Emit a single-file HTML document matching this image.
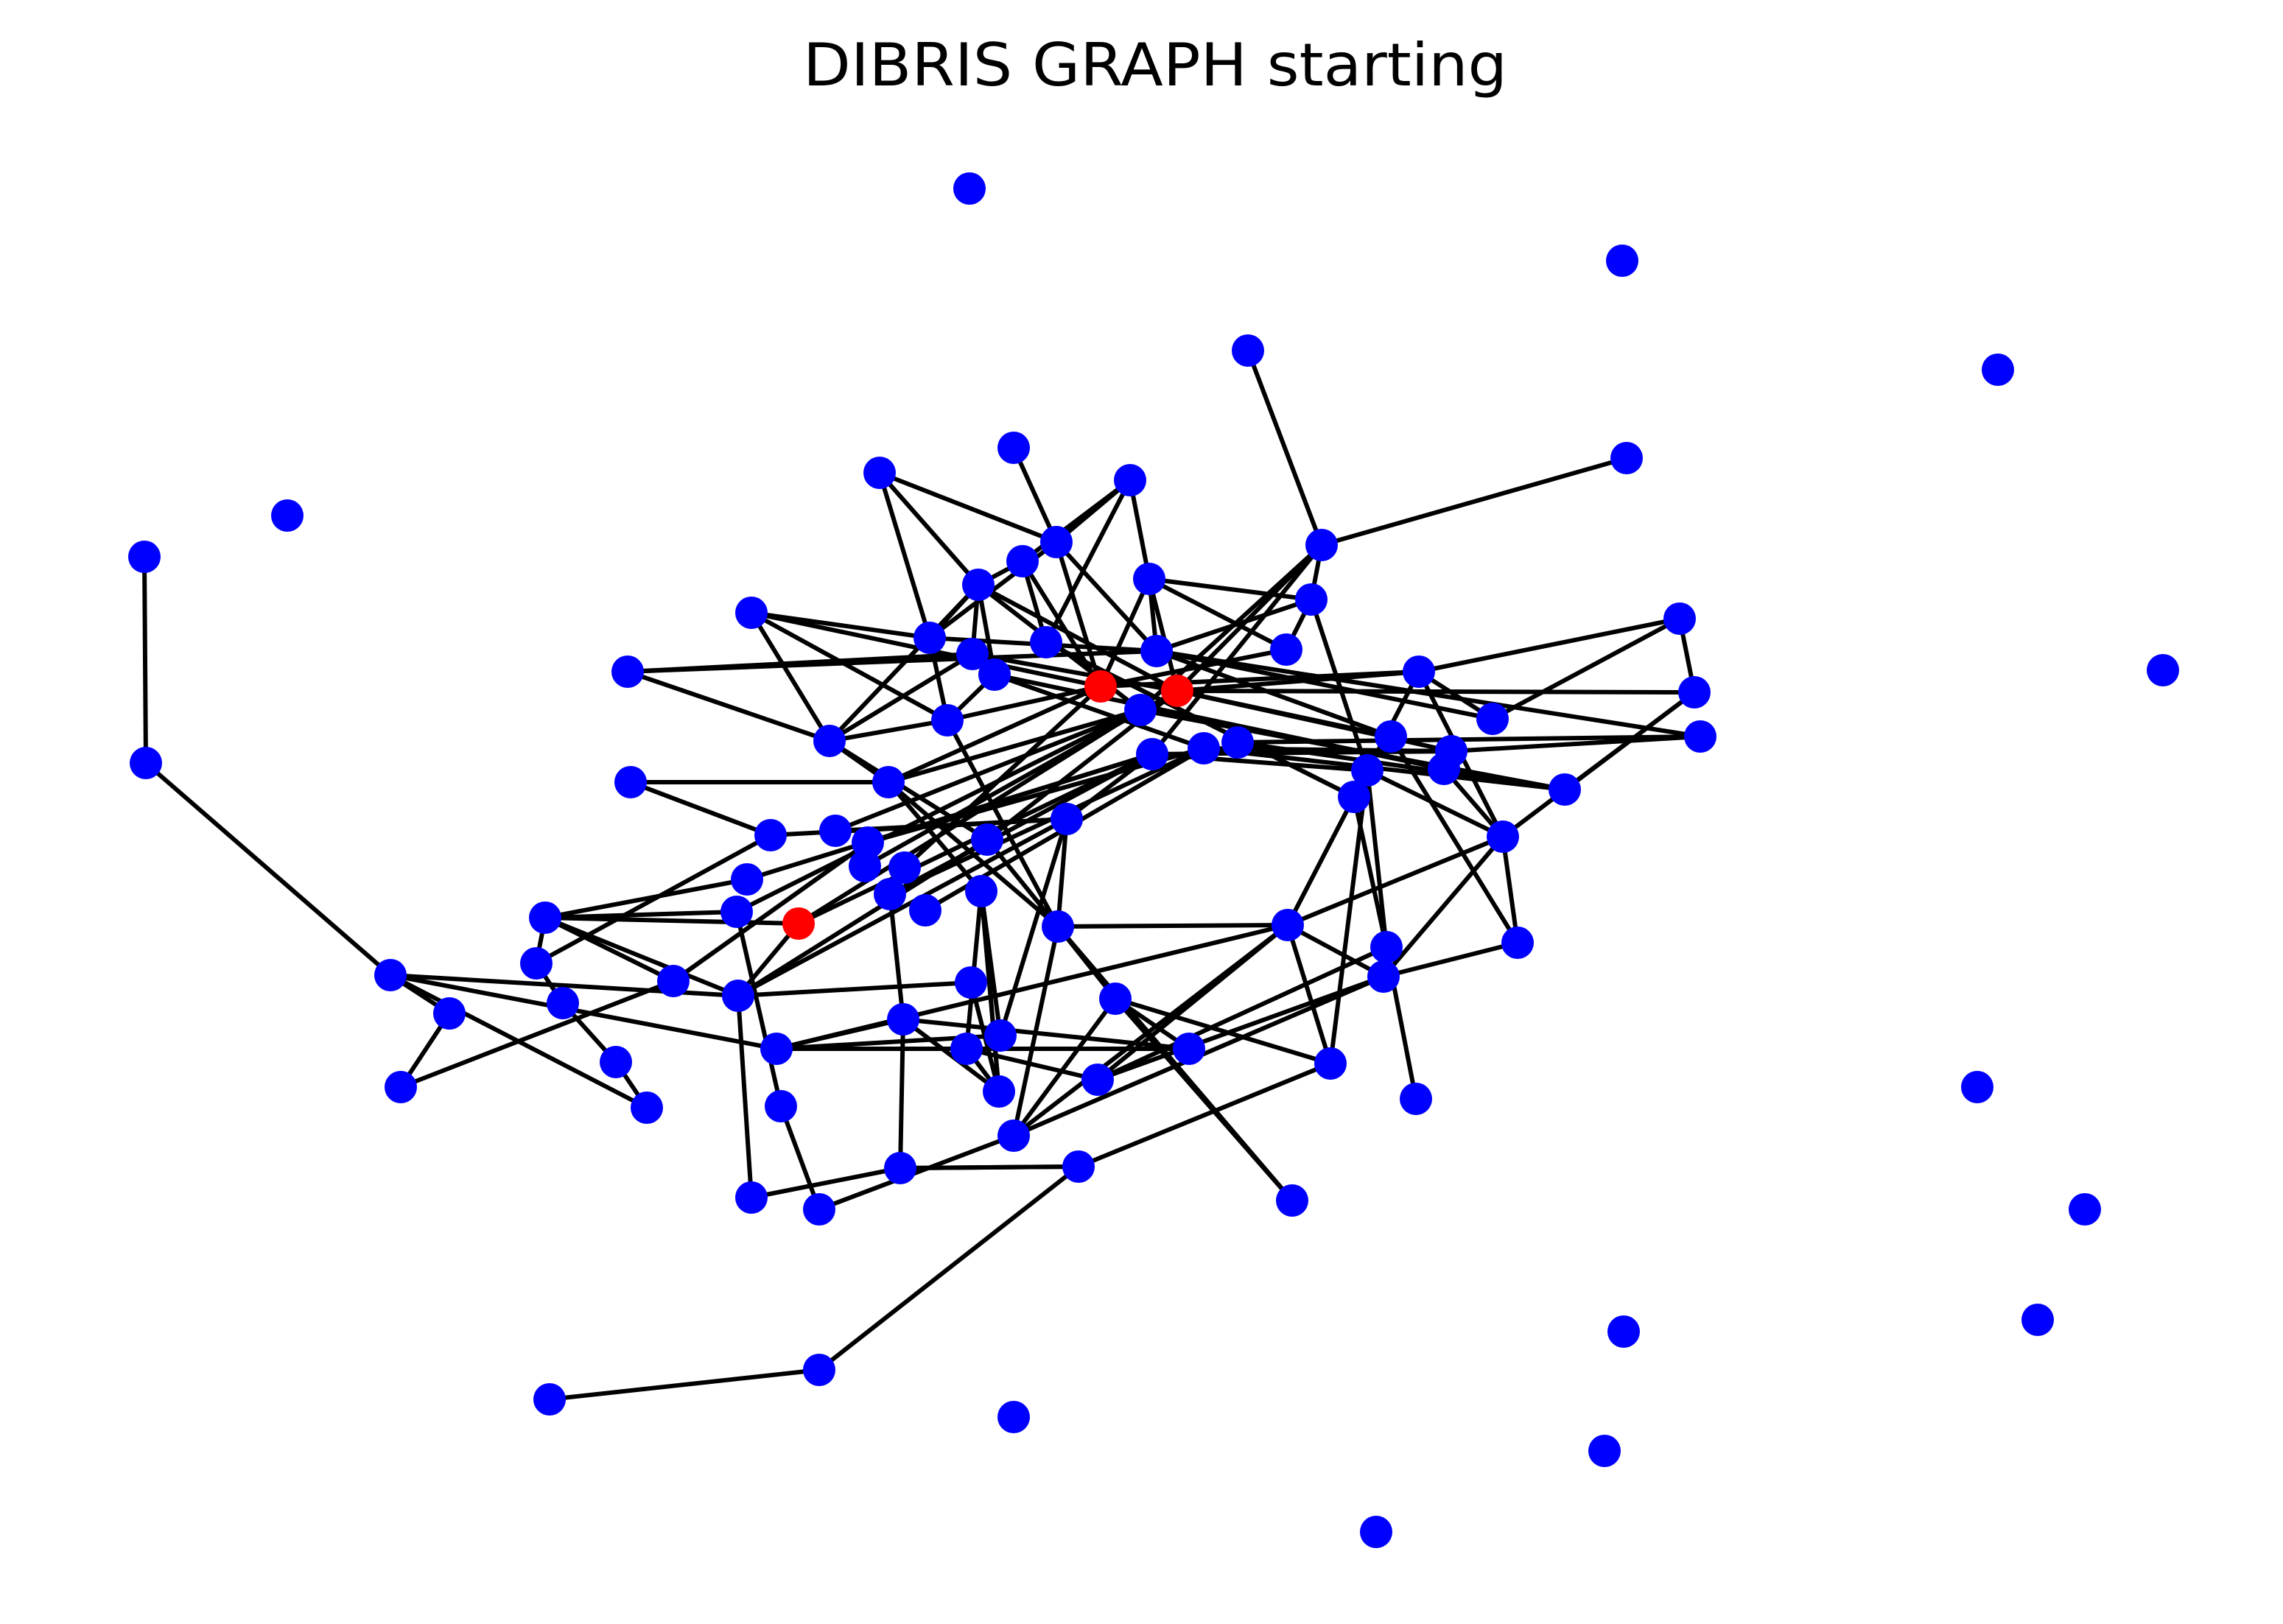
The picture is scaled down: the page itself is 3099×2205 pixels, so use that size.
<!DOCTYPE html>
<html><head><meta charset="utf-8"><style>
html,body{margin:0;padding:0;background:#fff;}
svg{display:block;}
</style></head><body>
<svg id="chart" width="3099" height="2205" viewBox="0 0 1549.5 1102.5" xmlns="http://www.w3.org/2000/svg">
<rect width="1549.5" height="1102.5" fill="#fff"/>
<text x="784" y="58" text-anchor="middle" font-family="DejaVu Sans, Liberation Sans, sans-serif" font-size="40" textLength="478" lengthAdjust="spacingAndGlyphs" fill="#000">DIBRIS GRAPH starting</text>
<g id="edges"></g>
<g id="nodes"></g>
</svg>
<script>
const nodeIds = ["I1","I2","I3","I4","I5","I6","I7","I8","I9","I10","I11","I12","A","B","C","D","E","F","G","H","I","J","K","L","M","N","O","P","Q","R","S","T","U","V","W","X","Y","Z","AA","AB","AC","AD","AE","AF","AG","AH","AI","AJ","AK","AL","AM","AN","AO","AP","AQ","AR","AS","AT","AU","AV","AW","AX","AY","AZ","BA","BB","BC","BD","BE","BF","BG","BH","BI","BJ","BK","BL","BM","BN","BO","BP","BQ","BR","BS","BT","BU","BV","BW","BX","BY","BZ","CA","CB","CC","CD","CE","CF","CG","CH","CI","CJ","CK","CL","CM"];
const nodeX = [658,1101,1356,1468,195,1342,1415,1383,1102,1089,934,688,98,99,265,305,272,439,418,382,364,370,457,501,500,507,523,542,567,589,587,614,604,628,603,563,510,426,428,597,688,767,717,694,664,631,660,675,710,780,785,747,799,774,782,643,817,840,847,897,890,873,1104,963,1013,944,1140,1150,1154,985,980,928,919,1062,1020,1030,941,939,874,903,961,877,724,670,666,718,659,613,527,530,656,679,678,757,807,745,688,732,611,510,556,556,373];
const nodeY = [128,177,251,455,350,738,821,896,904,985,1040,962,378,518,662,688,738,752,721,681,654,623,666,676,619,597,567,627,564,572,588,589,607,618,531,503,416,456,531,321,304,326,368,381,397,433,444,458,436,393,442,466,469,482,512,489,508,504,238,370,407,441,311,456,488,500,420,470,500,510,522,523,541,536,568,640,643,663,628,722,746,815,556,570,605,629,667,692,712,751,712,703,741,678,712,733,771,792,793,813,821,930,950];
const redNodes = ["P","AN","AO"];
const edgeFrom = ["A","B","C","C","C","D","E","C","H","G","I","I","J","J","J","J","J","K","AB","AB","AB","AC","AD","AD","AD","AD","AE","AE","AE","AF","AF","AF","AG","AG","AG","AG","AG","AL","AL","AL","AL","AL","AU","AV","AV","AV","AV","AV","AW","AW","AX","AX","Y","Y","Y","Y","Z","Z","Z","X","X","X","X","X","AA","AA","AR","AR","AR","AR","AT","AN","AO","AO","AO","AO","AM","AM","AK","AP","AS","AT","AZ","AZ","AZ","AZ","BC","BC","BD","BD","BE","BK","BK","BK","BK","BK","BH","BI","BI","BH","BL","BL","BN","BP","BQ","BN","BM","BO","BO","BO","BP","CH","CL","CH","P","P","M","N","S","T","U","V","R","Q","W","W","W","W","BS","BS","L","L","L","L","K","I","BY","BY","BY","BY","BZ","BZ","CJ","CJ","CK","CI","CI","CG","CG","CG","CC","CC","CC","CD","CD","CD","CD","BV","CF","CF","CF","CA","CB","CB","CA","BX","BX","BX","AH","AI","AJ","AQ","AP","AS","O","Q","R","U","BT","BT","BU","AJ","AK","AM","AQ"];
const edgeTo   = ["B","C","L","F","BY","E","K","D","G","F","H","J","M","L","P","N","K","R","AE","AG","AH","AE","AE","AF","AL","AK","AN","AM","AH","AG","AK","AN","AH","AI","AP","AO","AJ","AM","AW","AO","AX","AN","AV","AY","AO","AP","AQ","AW","AM","BH","AW","AN","AH","X","AR","AN","AI","X","AM","AR","AG","AI","BT","W","W","O","AN","BV","AH","AJ","BE","AZ","AZ","BD","BF","BB","BB","BA","BI","BJ","BJ","BJ","BC","BA","BI","BK","BD","BA","BJ","BK","BF","BG","BH","BL","BO","BN","BM","BM","BO","BP","BN","BB","BO","BO","BQ","CF","BQ","BV","CG","BY","CH","CL","CM","CI","AP","AQ","AP","AQ","AO","AN","AQ","AS","AS","BS","AP","AN","BU","BV","AQ","BV","BS","BT","P","BW","R","O","CB","BX","CA","CE","M","CK","L","CI","CG","BX","CH","BV","CD","BN","BW","CA","BU","CE","BV","BP","BR","BR","BO","BM","CA","CE","BS","BU","BU","CC","CE","U","AM","AO","AS","BH","BJ","BF","BS","AP","AQ","AS","AO","BV","CC","BG","BI","BE","BF"];

const svgNS = "http://www.w3.org/2000/svg";
const eg = document.getElementById("edges");
const ng = document.getElementById("nodes");
function xOf(id){ return nodeX[nodeIds.indexOf(id)]; }
function yOf(id){ return nodeY[nodeIds.indexOf(id)]; }
for (let i = 0; i < edgeFrom.length; i++) {
  const l = document.createElementNS(svgNS, "line");
  l.setAttribute("x1", xOf(edgeFrom[i]));
  l.setAttribute("y1", yOf(edgeFrom[i]));
  l.setAttribute("x2", xOf(edgeTo[i]));
  l.setAttribute("y2", yOf(edgeTo[i]));
  l.setAttribute("stroke", "#000");
  l.setAttribute("stroke-width", "3");
  
  
  eg.appendChild(l);
}
for (let i = 0; i < nodeIds.length; i++) {
  const c = document.createElementNS(svgNS, "circle");
  c.setAttribute("cx", nodeX[i]);
  c.setAttribute("cy", nodeY[i]);
  c.setAttribute("r", "11");
  c.setAttribute("fill", redNodes.includes(nodeIds[i]) ? "#ff0000" : "#0000ff");
  
  
  ng.appendChild(c);
}
</script>
</body></html>
